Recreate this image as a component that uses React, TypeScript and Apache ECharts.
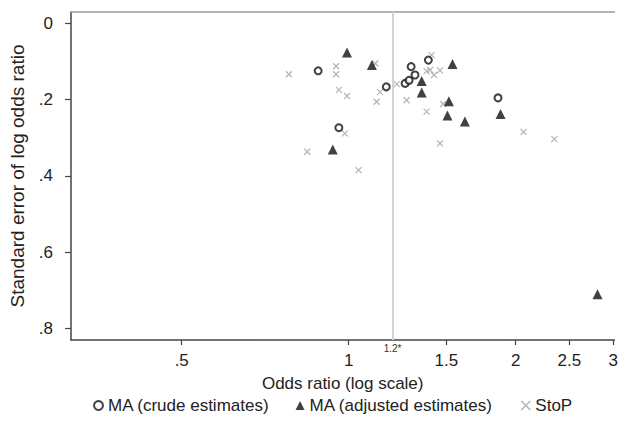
import { useEffect, useRef } from 'react';
import * as echarts from 'echarts';

// MA (crude estimates)
const crudeOR = [0.881, 0.96, 1.169, 1.264, 1.285, 1.317, 1.296, 1.392, 1.859];
const crudeSE = [0.125, 0.274, 0.167, 0.158, 0.15, 0.136, 0.114, 0.097, 0.196];
// MA (adjusted estimates)
const adjOR = [0.993, 1.101, 1.539, 1.354, 1.354, 1.516, 1.507, 1.62, 1.879, 0.936, 2.81];
const adjSE = [0.077, 0.11, 0.107, 0.152, 0.182, 0.205, 0.242, 0.258, 0.238, 0.331, 0.71];
// StoP
const stopOR = [0.78, 0.949, 0.949, 0.96, 0.993, 1.117, 1.123, 1.139, 1.221, 0.984, 0.842, 1.042, 1.272, 1.382, 1.461, 1.411, 1.382, 1.402, 1.461, 1.425, 1.481, 2.067, 2.349];
const stopSE = [0.134, 0.113, 0.134, 0.175, 0.191, 0.106, 0.206, 0.181, 0.16, 0.289, 0.337, 0.385, 0.202, 0.232, 0.315, 0.084, 0.126, 0.123, 0.124, 0.136, 0.212, 0.285, 0.304];

const xTicks = [0.5, 1, 1.5, 2, 2.5, 3];
const yTicks = [0, 0.2, 0.4, 0.6, 0.8];
const refOR = 1.2;
const refLabel = '1.2*';

const seriesNames = ['MA (crude estimates)', 'MA (adjusted estimates)', 'StoP'];

const zip = (a: number[], b: number[]) => a.map((v, i) => [v, b[i]]);
const fmt = (v: number) => {
  const s = String(+Number(v).toFixed(2));
  return s.startsWith('0.') ? s.slice(1) : s;
};

const X_PATH = 'path://M0,0L10,10M10,0L0,10';
const FONT = '"Liberation Sans", Arial, sans-serif';
const X_MIN = 0.3157;
const X_MAX = 3.014;

export default function App() {
  const ref = useRef<HTMLDivElement>(null);
  useEffect(() => {
    if (!ref.current) return;
    const chart = echarts.init(ref.current, null, { renderer: 'svg' });
    chart.setOption({
      animation: false,
      textStyle: { fontFamily: FONT },
      grid: {
        left: 71,
        top: 12,
        right: 0,
        bottom: 91,
        show: false,
        containLabel: false,
      },
      legend: {
        bottom: 12,
        left: 88,
        itemGap: 26,
        itemWidth: 9,
        itemHeight: 9,
        textStyle: { fontSize: 17, color: '#222', fontFamily: FONT },
        data: [
          { name: seriesNames[0], icon: 'emptyCircle', itemStyle: { color: '#111', borderColor: '#111', borderWidth: 1.6 } },
          { name: seriesNames[1], icon: 'triangle', itemStyle: { color: '#111' } },
          { name: seriesNames[2], icon: X_PATH, itemStyle: { color: 'none', borderColor: '#999', borderWidth: 1.2 } },
        ],
      },
      xAxis: [
        {
          type: 'log',
          logBase: 10,
          min: X_MIN,
          max: X_MAX,
          name: 'Odds ratio (log scale)',
          nameLocation: 'middle',
          nameGap: 35,
          nameTextStyle: { fontSize: 17, color: '#222', fontFamily: FONT },
          axisLine: { show: true, onZero: false, lineStyle: { color: '#444', width: 1.5 } },
          axisTick: { show: true, customValues: xTicks, length: 5, lineStyle: { color: '#444', width: 1.2 } },
          axisLabel: { customValues: xTicks, formatter: (v: number) => fmt(v), fontSize: 17, color: '#222', margin: 12, fontFamily: FONT },
          splitLine: { show: false },
          minorTick: { show: false },
          minorSplitLine: { show: false },
        },
        {
          type: 'log',
          logBase: 10,
          min: X_MIN,
          max: X_MAX,
          position: 'top',
          axisLine: { show: true, onZero: false, lineStyle: { color: '#9a9a9a', width: 1.5 } },
          axisTick: { show: false },
          axisLabel: { show: false },
          splitLine: { show: false },
          minorTick: { show: false },
          minorSplitLine: { show: false },
        },
      ],
      yAxis: {
        type: 'value',
        inverse: true,
        min: -0.029,
        max: 0.83,
        name: 'Standard error of log odds ratio',
        nameLocation: 'middle',
        nameGap: 44,
        nameTextStyle: { fontSize: 19, color: '#222', fontFamily: FONT },
        axisLine: { show: true, onZero: false, lineStyle: { color: '#444', width: 1.5 } },
        axisTick: { show: true, customValues: yTicks, length: 6, lineStyle: { color: '#444', width: 1.2 } },
        axisLabel: { customValues: yTicks, formatter: (v: number) => fmt(v), fontSize: 17, color: '#222', margin: 18, fontFamily: FONT },
        splitLine: { show: false },
      },
      series: [
        {
          name: seriesNames[2],
          type: 'scatter',
          symbol: X_PATH,
          symbolSize: 6,
          itemStyle: { color: 'none', borderColor: '#a0a0a0', borderWidth: 1.2 },
          data: zip(stopOR, stopSE),
          markLine: {
            silent: true,
            symbol: 'none',
            lineStyle: { color: '#d2d2d2', width: 2, type: 'solid' },
            label: { show: true, formatter: refLabel, position: 'end', distance: 3, fontSize: 10, color: '#333', fontFamily: FONT },
            data: [{ xAxis: refOR }],
          },
          z: 2,
        },
        {
          name: seriesNames[0],
          type: 'scatter',
          symbol: 'emptyCircle',
          symbolSize: 7,
          itemStyle: { color: '#111', borderWidth: 1.8 },
          data: zip(crudeOR, crudeSE),
          z: 3,
        },
        {
          name: seriesNames[1],
          type: 'scatter',
          symbol: 'triangle',
          symbolSize: 10,
          itemStyle: { color: '#111' },
          data: zip(adjOR, adjSE),
          z: 4,
        },
      ],
    });
    return () => chart.dispose();
  }, []);
  return <div ref={ref} style={{ width: 621, height: 431, position: 'absolute', left: 0, top: 0, background: '#fff' }} />;
}
